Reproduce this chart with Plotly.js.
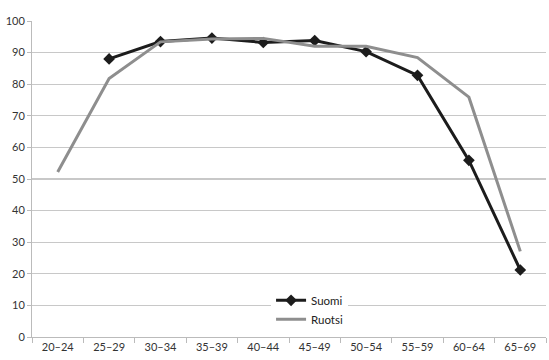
<!DOCTYPE html>
<html><head><meta charset="utf-8">
<script src="https://cdn.plot.ly/plotly-3.0.1.min.js"></script>
<style>body{margin:0;background:#fff}#c{width:549px;height:360px}</style>
</head><body><div id="c"></div>
<script>
const categories = ["20–24","25–29","30–34","35–39","40–44","45–49","50–54","55–59","60–64","65–69"];
const suomi = [null, 88.0, 93.5, 94.6, 93.2, 93.8, 90.3, 82.8, 55.9, 21.2];
const ruotsi = [52.2, 81.8, 93.4, 94.3, 94.5, 92.0, 92.0, 88.4, 75.9, 27.1];
const yTicks = [0,10,20,30,40,50,60,70,80,90,100];

const traces = [
  {x: categories, y: suomi, name: "Suomi", type: "scatter", mode: "lines+markers",
   line: {color: "#1c1c1c", width: 3}, marker: {symbol: "diamond", size: 9, color: "#1c1c1c"}},
  {x: categories, y: ruotsi, name: "Ruotsi", type: "scatter", mode: "lines",
   line: {color: "#8e8e8e", width: 3}}
];
const layout = {
  width: 549, height: 360,
  margin: {l: 32, r: 3, t: 21, b: 23},
  paper_bgcolor: "#fff", plot_bgcolor: "#fff",
  font: {family: "Lato, 'Open Sans', sans-serif", size: 11, color: "#333"},
  showlegend: true,
  legend: {x: 0.54, y: 0.162, xanchor: "center", yanchor: "top", bgcolor: "#fff",
           font: {size: 11.5, color: "#222"}, tracegroupgap: 0, itemwidth: 30},
  xaxis: {type: "category", range: [-0.5, 9.5], showgrid: false, zeroline: false,
          showline: true, linecolor: "#bbb", linewidth: 1,
          ticks: "outside", tickson: "boundaries", ticklen: 5, tickcolor: "#bbb",
          tickfont: {size: 11, color: "#333"}},
  yaxis: {range: [0, 100], tickvals: yTicks, showgrid: true, gridcolor: "#c8c8c8", gridwidth: 1.3,
          zeroline: false, showline: true, linecolor: "#bbb", linewidth: 1,
          ticks: "outside", ticklen: 4, tickcolor: "#bbb",
          tickfont: {size: 11, color: "#333"}}
};
Plotly.newPlot("c", traces, layout, {displayModeBar: false, staticPlot: true});
</script></body></html>
